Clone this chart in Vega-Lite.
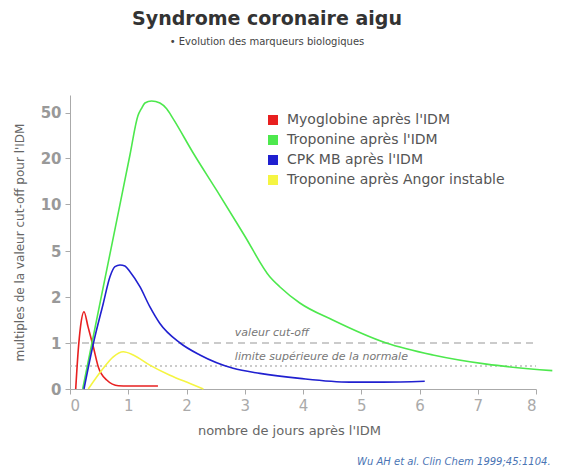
{
  "$schema": "https://vega.github.io/schema/vega-lite/v6.json",
  "width": 466,
  "height": 294,
  "autosize": {"type": "none"},
  "padding": {"left": 70, "top": 95, "right": 27, "bottom": 81},
  "background": "white",
  "config": {"view": {"stroke": null}, "font": "DejaVu Sans"},
  "title": {
    "text": "Syndrome coronaire aigu",
    "subtitle": "• Evolution des marqueurs biologiques",
    "font": "DejaVu Sans",
    "fontSize": 19,
    "fontWeight": "bold",
    "color": "#333333",
    "subtitleFont": "DejaVu Sans",
    "subtitleFontSize": 10,
    "subtitleColor": "#444444",
    "subtitlePadding": 8,
    "anchor": "middle",
    "dx": -36,
    "offset": 48
  },
  "datasets": {
    "curves": [
      {"s": "Myoglobine après l'IDM", "x": 0.098, "y": 0},
      {"s": "Myoglobine après l'IDM", "x": 0.142, "y": 0.85},
      {"s": "Myoglobine après l'IDM", "x": 0.18, "y": 1.35},
      {"s": "Myoglobine après l'IDM", "x": 0.24, "y": 1.68},
      {"s": "Myoglobine après l'IDM", "x": 0.31, "y": 1.35},
      {"s": "Myoglobine après l'IDM", "x": 0.40, "y": 0.92},
      {"s": "Myoglobine après l'IDM", "x": 0.486, "y": 0.48},
      {"s": "Myoglobine après l'IDM", "x": 0.63, "y": 0.196},
      {"s": "Myoglobine après l'IDM", "x": 0.83, "y": 0.07},
      {"s": "Myoglobine après l'IDM", "x": 1.0, "y": 0.065},
      {"s": "Myoglobine après l'IDM", "x": 1.51, "y": 0.065},
      {"s": "Troponine après l'IDM", "x": 0.218, "y": 0},
      {"s": "Troponine après l'IDM", "x": 0.377, "y": 1},
      {"s": "Troponine après l'IDM", "x": 0.54, "y": 2.07},
      {"s": "Troponine après l'IDM", "x": 0.703, "y": 5.2},
      {"s": "Troponine après l'IDM", "x": 0.866, "y": 10.4},
      {"s": "Troponine après l'IDM", "x": 1.029, "y": 22},
      {"s": "Troponine après l'IDM", "x": 1.166, "y": 48},
      {"s": "Troponine après l'IDM", "x": 1.226, "y": 53.4},
      {"s": "Troponine après l'IDM", "x": 1.286, "y": 58},
      {"s": "Troponine après l'IDM", "x": 1.40, "y": 59.7},
      {"s": "Troponine après l'IDM", "x": 1.544, "y": 58},
      {"s": "Troponine après l'IDM", "x": 1.659, "y": 53.2},
      {"s": "Troponine après l'IDM", "x": 1.772, "y": 45.9},
      {"s": "Troponine après l'IDM", "x": 2.115, "y": 23.3},
      {"s": "Troponine après l'IDM", "x": 2.516, "y": 13},
      {"s": "Troponine après l'IDM", "x": 3.0, "y": 6.6},
      {"s": "Troponine après l'IDM", "x": 3.43, "y": 3.32},
      {"s": "Troponine après l'IDM", "x": 3.60, "y": 2.67},
      {"s": "Troponine après l'IDM", "x": 3.945, "y": 1.87},
      {"s": "Troponine après l'IDM", "x": 4.51, "y": 1.5},
      {"s": "Troponine après l'IDM", "x": 5.43, "y": 1.0},
      {"s": "Troponine après l'IDM", "x": 6.23, "y": 0.74},
      {"s": "Troponine après l'IDM", "x": 7.15, "y": 0.54},
      {"s": "Troponine après l'IDM", "x": 8.28, "y": 0.40},
      {"s": "CPK MB après l'IDM", "x": 0.24, "y": 0},
      {"s": "CPK MB après l'IDM", "x": 0.403, "y": 1.0},
      {"s": "CPK MB après l'IDM", "x": 0.571, "y": 1.86},
      {"s": "CPK MB après l'IDM", "x": 0.686, "y": 3.32},
      {"s": "CPK MB après l'IDM", "x": 0.772, "y": 3.98},
      {"s": "CPK MB après l'IDM", "x": 0.858, "y": 4.09},
      {"s": "CPK MB après l'IDM", "x": 0.943, "y": 4.02},
      {"s": "CPK MB après l'IDM", "x": 1.03, "y": 3.65},
      {"s": "CPK MB après l'IDM", "x": 1.2, "y": 2.67},
      {"s": "CPK MB après l'IDM", "x": 1.37, "y": 1.79},
      {"s": "CPK MB après l'IDM", "x": 1.54, "y": 1.43},
      {"s": "CPK MB après l'IDM", "x": 1.89, "y": 1.0},
      {"s": "CPK MB après l'IDM", "x": 2.23, "y": 0.74},
      {"s": "CPK MB après l'IDM", "x": 2.80, "y": 0.45},
      {"s": "CPK MB après l'IDM", "x": 3.26, "y": 0.34},
      {"s": "CPK MB après l'IDM", "x": 3.945, "y": 0.23},
      {"s": "CPK MB après l'IDM", "x": 4.80, "y": 0.15},
      {"s": "CPK MB après l'IDM", "x": 5.37, "y": 0.15},
      {"s": "CPK MB après l'IDM", "x": 6.09, "y": 0.17},
      {"s": "Troponine après Angor instable", "x": 0.314, "y": 0},
      {"s": "Troponine après Angor instable", "x": 0.571, "y": 0.45},
      {"s": "Troponine après Angor instable", "x": 0.743, "y": 0.70},
      {"s": "Troponine après Angor instable", "x": 0.915, "y": 0.81},
      {"s": "Troponine après Angor instable", "x": 1.086, "y": 0.74},
      {"s": "Troponine après Angor instable", "x": 1.37, "y": 0.52},
      {"s": "Troponine après Angor instable", "x": 1.715, "y": 0.30},
      {"s": "Troponine après Angor instable", "x": 2.06, "y": 0.12},
      {"s": "Troponine après Angor instable", "x": 2.29, "y": 0}
    ],
    "cutoff": [{"x": 0, "x2": 8, "y": 1}],
    "limite": [{"x": 0, "x2": 8, "y": 0.5}],
    "notes": [
      {"x": 2.83, "y": 1.22, "t": "valeur cut-off"},
      {"x": 2.83, "y": 0.70, "t": "limite supérieure de la normale"}
    ],
    "source": [{"x": 8.25, "y": -1.58, "t": "Wu AH et al. Clin Chem 1999;45:1104."}]
  },
  "encoding": {
    "x": {
      "field": "x",
      "type": "quantitative",
      "scale": {"domain": [0, 8], "nice": false, "zero": false},
      "axis": {
        "values": [0, 1, 2, 3, 4, 5, 6, 7, 8],
        "grid": false,
        "domainColor": "#aaaaaa",
        "tickColor": "#aaaaaa",
        "tickSize": 5,
        "labelFontSize": 15,
        "labelColor": "#aaaaaa",
        "labelPadding": 4,
        "title": "nombre de jours après l'IDM",
        "titleFontSize": 13,
        "titleColor": "#666666",
        "titleFontWeight": "normal",
        "titlePadding": 11,
        "titleX": 219
      }
    },
    "y": {
      "field": "y",
      "type": "quantitative",
      "scale": {
        "domain": [0, 1, 2, 5, 10, 20, 50, 64.6],
        "range": [294, 248, 202, 156, 109, 63, 17.7, 0],
        "nice": false,
        "zero": false
      },
      "axis": {
        "values": [0, 1, 2, 5, 10, 20, 50],
        "grid": false,
        "domainColor": "#aaaaaa",
        "tickColor": "#aaaaaa",
        "tickSize": 5,
        "labelFontSize": 15,
        "labelFontWeight": "bold",
        "labelColor": "#999999",
        "labelPadding": 4,
        "title": "multiples de la valeur cut-off pour l'IDM",
        "titleFontSize": 12,
        "titleColor": "#666666",
        "titleFontWeight": "normal",
        "titlePadding": 14
      }
    }
  },
  "layer": [
    {
      "data": {"name": "cutoff"},
      "mark": {"type": "rule", "strokeDash": [7, 5], "color": "#bbbbbb", "strokeWidth": 1.5},
      "encoding": {"x2": {"field": "x2"}}
    },
    {
      "data": {"name": "limite"},
      "mark": {"type": "rule", "strokeDash": [2, 3], "color": "#bbbbbb", "strokeWidth": 1.5},
      "encoding": {"x2": {"field": "x2"}}
    },
    {
      "data": {"name": "notes"},
      "mark": {"type": "text", "align": "left", "baseline": "middle", "fontStyle": "italic", "fontSize": 11, "color": "#777777"},
      "encoding": {"text": {"field": "t"}}
    },
    {
      "data": {"name": "source"},
      "mark": {"type": "text", "align": "right", "baseline": "middle", "fontStyle": "italic", "fontSize": 10, "color": "#4a74b4"},
      "encoding": {"text": {"field": "t"}}
    },
    {
      "data": {"name": "curves"},
      "mark": {"type": "line", "interpolate": "monotone", "strokeWidth": 1.6},
      "encoding": {
        "color": {
          "field": "s",
          "type": "nominal",
          "scale": {
            "domain": ["Myoglobine après l'IDM", "Troponine après l'IDM", "CPK MB après l'IDM", "Troponine après Angor instable"],
            "range": ["#e82020", "#4de84d", "#2020d0", "#f5f542"]
          },
          "legend": {
            "title": null,
            "orient": "none",
            "legendX": 196,
            "legendY": 18,
            "padding": 0,
            "symbolType": "square",
            "symbolSize": 25,
            "symbolStrokeWidth": 5,
            "symbolOpacity": 1,
            "labelFontSize": 14,
            "labelColor": "#555555",
            "labelOffset": 7,
            "labelLimit": 400,
            "rowPadding": -6
          }
        }
      }
    }
  ]
}
